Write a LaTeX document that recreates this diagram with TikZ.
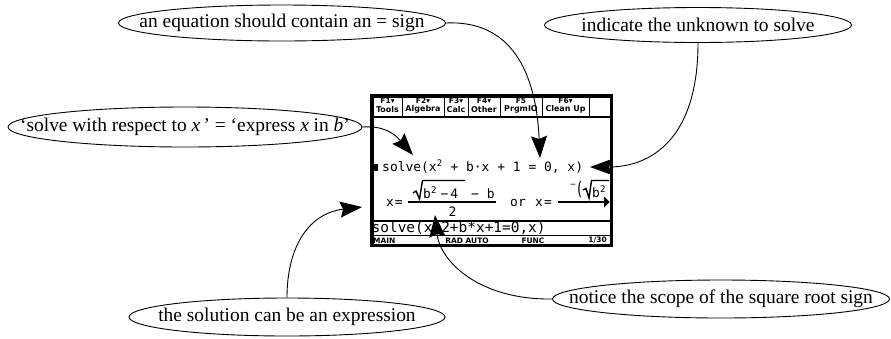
\documentclass[tikz,border=0pt]{standalone}
\usepackage{fontspec}
\setmainfont{Liberation Serif}
\newfontfamily\tisans{DejaVu Sans}
\newfontfamily\timono{DejaVu Sans Mono}
\usetikzlibrary{arrows.meta,shapes.geometric}

\tikzset{
  note/.style={ellipse, draw, line width=0.9bp, inner sep=0pt,
    font=\fontsize{19.5}{21}\selectfont},
  callout/.style={line width=0.9bp,
    -{Stealth[length=22bp,width=16bp,inset=3bp]}},
  tabkey/.style={font=\tisans\bfseries\fontsize{7.5}{7.5}\selectfont, inner sep=0pt},
  tablabel/.style={font=\tisans\bfseries\fontsize{8}{8}\selectfont, inner sep=0pt},
  pretty/.style={font=\timono\fontsize{13}{13}\selectfont, inner sep=0pt},
  entry/.style={font=\timono\fontsize{14.5}{14.5}\selectfont, inner sep=0pt},
  status/.style={font=\tisans\bfseries\fontsize{7.5}{7.5}\selectfont, inner sep=0pt},
  rule/.style={line width=1.2bp},
  radical/.style={line width=1.4bp, line join=miter},
}

\begin{document}
\begin{tikzpicture}[x=1bp, y=-1bp]
\useasboundingbox (0,0) rectangle (891,338);

% ---- comment bubbles ----
\node[note, minimum width=327bp, minimum height=36bp] (eq) at (282,23)
  {\makebox[0pt]{an equation should contain an = sign}};
\node[note, minimum width=307bp, minimum height=35bp] (unk) at (698,25)
  {\makebox[0pt]{indicate the unknown to solve}};
\node[note, minimum width=354bp, minimum height=40bp] (resp) at (185,127)
  {\makebox[0pt]{‘solve with respect to \textit{x}\,’ = ‘express \textit{x} in \textit{b}’}};
\node[note, minimum width=316bp, minimum height=38bp] (sol) at (287,317)
  {\makebox[0pt]{the solution can be an expression}};
\node[note, minimum width=337bp, minimum height=38bp] (scope) at (721,299)
  {\makebox[0pt]{notice the scope of the square root sign}};

% ---- calculator screen ----
% toolbar
\foreach \sx in {402,444,468,500,542,589}
  \draw[line width=1bp] (\sx,95) -- (\sx,117);
\draw[rule] (372,117) -- (611,117);
\node[tabkey] (k1) at (387.5,100.5) {F1▾};
\node[tabkey] (k2) at (423,100.5) {F2▾};
\node[tabkey] (k3) at (456,100.5) {F3▾};
\node[tabkey] (k4) at (484,100.5) {F4▾};
\node[tabkey] (k5) at (521,100.5) {F5};
\node[tabkey] (k6) at (565.5,100.5) {F6▾};
\node[tablabel] (t1) at (387.5,109.5) {Tools};
\node[tablabel] (t2) at (423,109.5) {Algebra};
\node[tablabel] (t3) at (456,109.5) {Calc};
\node[tablabel] (t4) at (484,109.5) {Other};
\node[tablabel] (t5) at (521,109.5) {PrgmIO};
\node[tablabel] (t6) at (565.5,109.5) {Clean Up};

% history: command
\fill (372.5,164) rectangle (378,171);
\node[pretty, anchor=base west] (cmd) at (382,171)
  {solve(x\textsuperscript{2} + b·x + 1 = 0, x)};

% history: result
\node[pretty, anchor=base west] (lhsA) at (386,206) {x\kern1bp=};
\draw[line width=1.5bp] (408,202) -- (496,202);
\draw[radical] (413,193) -- (416,191) -- (419.5,199) -- (422.5,180.5) -- (465,180.5);
\node[pretty, anchor=base west] (numA) at (423,198) {b\textsuperscript{2}};
\node[pretty, anchor=base west] (numB) at (440.5,198) {−\kern2bp4};
\node[pretty, anchor=base west] (numC) at (471,198) {−\kern8bp b};
\node[pretty, anchor=base] (den) at (452.5,216) {2};
\node[pretty, anchor=base west] (orw) at (510,206) {or};
\node[pretty, anchor=base west] (lhsB) at (535,206) {x\kern1bp=};
\draw[line width=1.5bp] (558,202) -- (609,202);
\node[pretty, font=\timono\fontsize{9}{9}\selectfont] (neg) at (573,186) {−};
\node[pretty] (par) at (579.5,189.5) {\scalebox{1}[1.45]{(}};
\draw[radical] (583,190) -- (586,188.5) -- (589,198) -- (591.5,180.5) -- (609,180.5);
\node[pretty, anchor=base west] (numD) at (592,197) {b\textsuperscript{2}};
\fill (604,196.5) -- (609.5,202) -- (604,207.5) -- cycle;

% entry line and status bar
\draw[rule] (372,221) -- (611,221);
\node[entry, anchor=base west] (inp) at (371.5,232) {solve(x\textasciicircum2+b*x+1=0,x)};
\draw[rule] (372,235.5) -- (611,235.5);
\node[status, anchor=west] (s1) at (373,240.5) {MAIN};
\node[status] (s2) at (467,240.5) {RAD AUTO};
\node[status] (s3) at (533,240.5) {FUNC};
\node[status, anchor=east] (s4) at (607,240.5) {1/30};

% screen frame
\node[draw, line width=3.5bp, minimum width=239.5bp, minimum height=149.5bp,
  inner sep=0pt] (screen) at (491.5,170.5) {};

% ---- pointers ----
\coordinate (tipEq) at (540,158);
\coordinate (tipUnk) at (590,167);
\coordinate (tipResp) at (413,155);
\coordinate (tipSol) at (362,207);
\coordinate (tipScope) at (435,215);

\draw[callout] (eq.east) .. controls (510,20) and (536,70) .. (tipEq);
\draw[callout] (unk.south) .. controls (698,140) and (650,167) .. (tipUnk);
\draw[callout] (resp.east) .. controls (388,125) and (398,138) .. (tipResp);
\draw[callout] (sol.north) .. controls (287,245) and (310,213) .. (tipSol);
\draw[callout] (scope.west) .. controls (480,300) and (440,262) .. (tipScope);
\end{tikzpicture}
\end{document}
